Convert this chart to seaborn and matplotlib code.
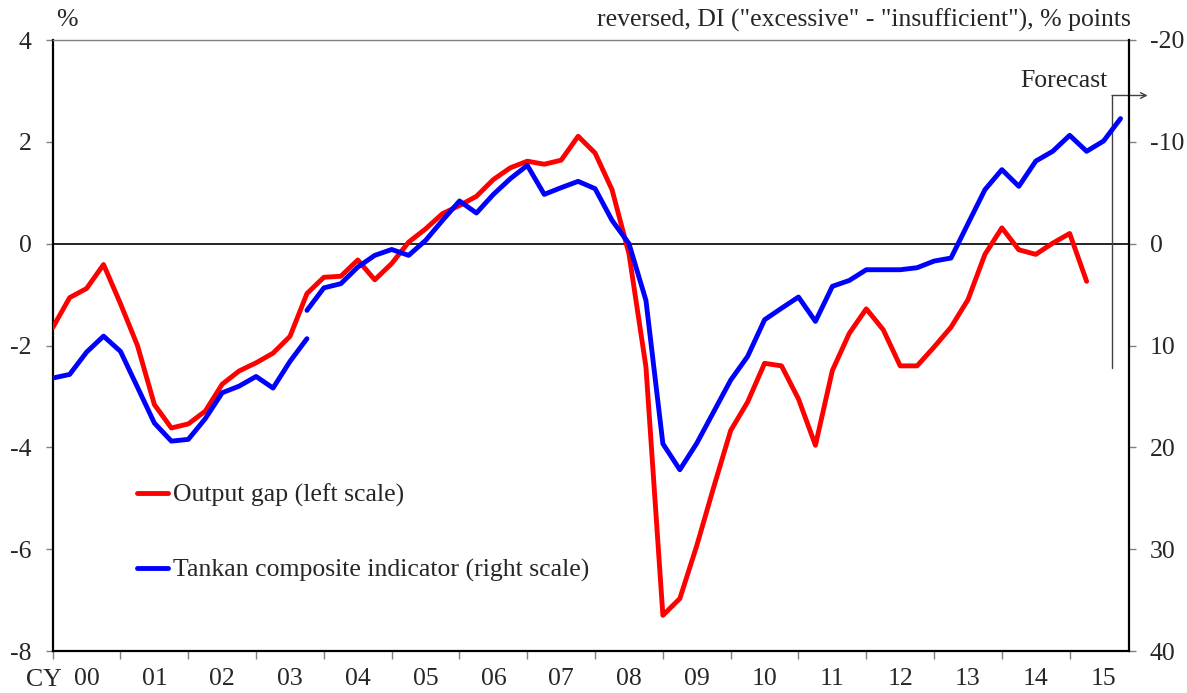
import numpy as np
import pandas as pd
import matplotlib
matplotlib.use("Agg")
import matplotlib.pyplot as plt
import seaborn as sns
from matplotlib.lines import Line2D

# ---------------- data (quarterly, 2000Q1 = index 0) ----------------
year_labels = ["00", "01", "02", "03", "04", "05", "06", "07",
               "08", "09", "10", "11", "12", "13", "14", "15"]

# Output gap, % (left scale), 2000Q1 - 2015Q2
output_gap = [-1.65, -1.06, -0.88, -0.41, -1.18, -2.00, -3.16, -3.62,
              -3.54, -3.29, -2.76, -2.50, -2.34, -2.15, -1.82, -0.98,
              -0.66, -0.64, -0.32, -0.71, -0.39, 0.03, 0.29, 0.59,
              0.75, 0.93, 1.26, 1.49, 1.62, 1.56, 1.64, 2.11,
              1.78, 1.06, -0.20, -2.42, -7.30, -6.97, -5.93, -4.78,
              -3.67, -3.11, -2.35, -2.40, -3.05, -3.96, -2.49, -1.76,
              -1.28, -1.69, -2.40, -2.40, -2.03, -1.64, -1.10, -0.21,
              0.31, -0.12, -0.21, 0.01, 0.20, -0.74]

# Tankan composite indicator (right scale, reversed), old basis 2000Q1 - 2003Q4
tankan_old = [13.2, 12.84, 10.65, 9.08, 10.58, 14.09, 17.62, 19.39,
              19.22, 17.19, 14.64, 13.99, 13.04, 14.18, 11.56, 9.33]
tankan_old_start = 0

# new basis 2003Q4 - 2015Q4 (last point is forecast)
tankan_new = [6.55, 4.34, 3.93, 2.30, 1.15, 0.57, 1.15, -0.32,
              -2.29, -4.19, -3.01, -4.84, -6.38, -7.69, -4.84, -5.50,
              -6.12, -5.40, -2.29, 0.0, 5.57, 19.65, 22.2, 19.6,
              16.5, 13.4, 11.07, 7.47, 6.34, 5.24, 7.63, 4.19,
              3.61, 2.56, 2.56, 2.56, 2.36, 1.71, 1.41, -1.96,
              -5.30, -7.27, -5.63, -8.11, -9.07, -10.64, -9.07, -10.08,
              -12.28]
tankan_new_start = 15

forecast_start = 62.5

gap_df = pd.DataFrame({"q": np.arange(len(output_gap)), "v": output_gap})
old_df = pd.DataFrame({"q": np.arange(len(tankan_old)) + tankan_old_start, "v": tankan_old})
new_df = pd.DataFrame({"q": np.arange(len(tankan_new)) + tankan_new_start, "v": tankan_new})

# ---------------- style ----------------
sns.set_style("white")
plt.rcParams["font.family"] = ["Liberation Serif", "DejaVu Serif"]
FS = 18.5
RED = "#FF0000"
BLUE = "#0000FF"
LW = 3.5

W, H = 1187, 693
fig = plt.figure(figsize=(W / 100, H / 100), dpi=100)
ax = fig.add_axes([52.7 / W, 1 - 651 / H, (1129 - 52.7) / W, (651 - 40) / H])
ax2 = ax.twinx()

ax.axhline(0, color="black", lw=1.2, zorder=1)

sns.lineplot(data=gap_df, x="q", y="v", ax=ax, color=RED, lw=LW, zorder=3)
sns.lineplot(data=old_df, x="q", y="v", ax=ax2, color=BLUE, lw=LW, zorder=3)
sns.lineplot(data=new_df, x="q", y="v", ax=ax2, color=BLUE, lw=LW, zorder=3)

ax.set_xlim(0, 63.5)
ax.set_ylim(-8, 4)
ax2.set_ylim(40, -20)
for a in (ax, ax2):
    a.set_xlabel("")
    a.set_ylabel("")

# y ticks
ax.set_yticks(np.arange(-8, 5, 2))
ax.set_yticklabels([f"{v:d}" for v in range(-8, 5, 2)])
ax2.set_yticks(np.arange(-20, 41, 10))
ax2.set_yticklabels([f"{v:d}" for v in range(-20, 41, 10)])
ax.tick_params(axis="y", which="major", direction="out", length=5, width=1,
               color="#808080", labelsize=FS, pad=10, left=True)
ax2.tick_params(axis="y", which="major", direction="out", length=5, width=1,
                color="#808080", labelsize=FS, pad=10, right=True)

# x ticks: year boundaries as ticks, labels centred in the year
ax.set_xticks(np.arange(0, 61, 4))
ax.set_xticklabels([])
ax.set_xticks(np.arange(2, 64, 4), minor=True)
ax.set_xticklabels(year_labels, minor=True)
ax.tick_params(axis="x", which="major", direction="out", length=6, width=1,
               color="#808080", bottom=True)
ax.tick_params(axis="x", which="minor", length=0, labelsize=FS, pad=12, bottom=True)
ax2.tick_params(axis="x", which="both", length=0)

# spines
for s in ["left", "bottom"]:
    ax.spines[s].set_color("black")
    ax.spines[s].set_linewidth(1.6)
ax.spines["top"].set_color("#808080")
ax.spines["top"].set_linewidth(1.0)
ax.spines["right"].set_visible(False)
ax2.spines["right"].set_color("black")
ax2.spines["right"].set_linewidth(1.6)
for s in ["left", "bottom", "top"]:
    ax2.spines[s].set_visible(False)

# forecast marker
ax.plot([forecast_start, forecast_start], [-2.45, 2.91], color="#404040", lw=1.0, zorder=2)
ax.annotate("", xy=(64.6, 2.91), xytext=(forecast_start, 2.91),
            xycoords="data", textcoords="data", annotation_clip=False,
            arrowprops=dict(arrowstyle="->", color="#404040", lw=1.0,
                            shrinkA=0, shrinkB=0))
ax.text(62.25, 3.19, "Forecast", ha="right", va="center", fontsize=FS)

# headers
fig.text(67 / W, 1 - 20 / H, "%", ha="center", va="center", fontsize=FS)
fig.text(1131 / W, 1 - 20 / H,
         'reversed, DI ("excessive" - "insufficient"), % points',
         ha="right", va="center", fontsize=FS)
fig.text(44 / W, 1 - 680 / H, "CY", ha="center", va="center", fontsize=FS)

# legend
handles = [Line2D([], [], color=RED, lw=LW), Line2D([], [], color=BLUE, lw=LW)]
labels = ["Output gap (left scale)", "Tankan composite indicator (right scale)"]
ax2.legend(handles, labels, loc="upper left", bbox_to_anchor=(137 / W, 1 - 484 / H),
           bbox_transform=fig.transFigure, frameon=False, fontsize=FS,
           handlelength=1.2, handletextpad=0.2, labelspacing=1.99, borderpad=0,
           borderaxespad=0)

fig.savefig("out.png", dpi=100)
